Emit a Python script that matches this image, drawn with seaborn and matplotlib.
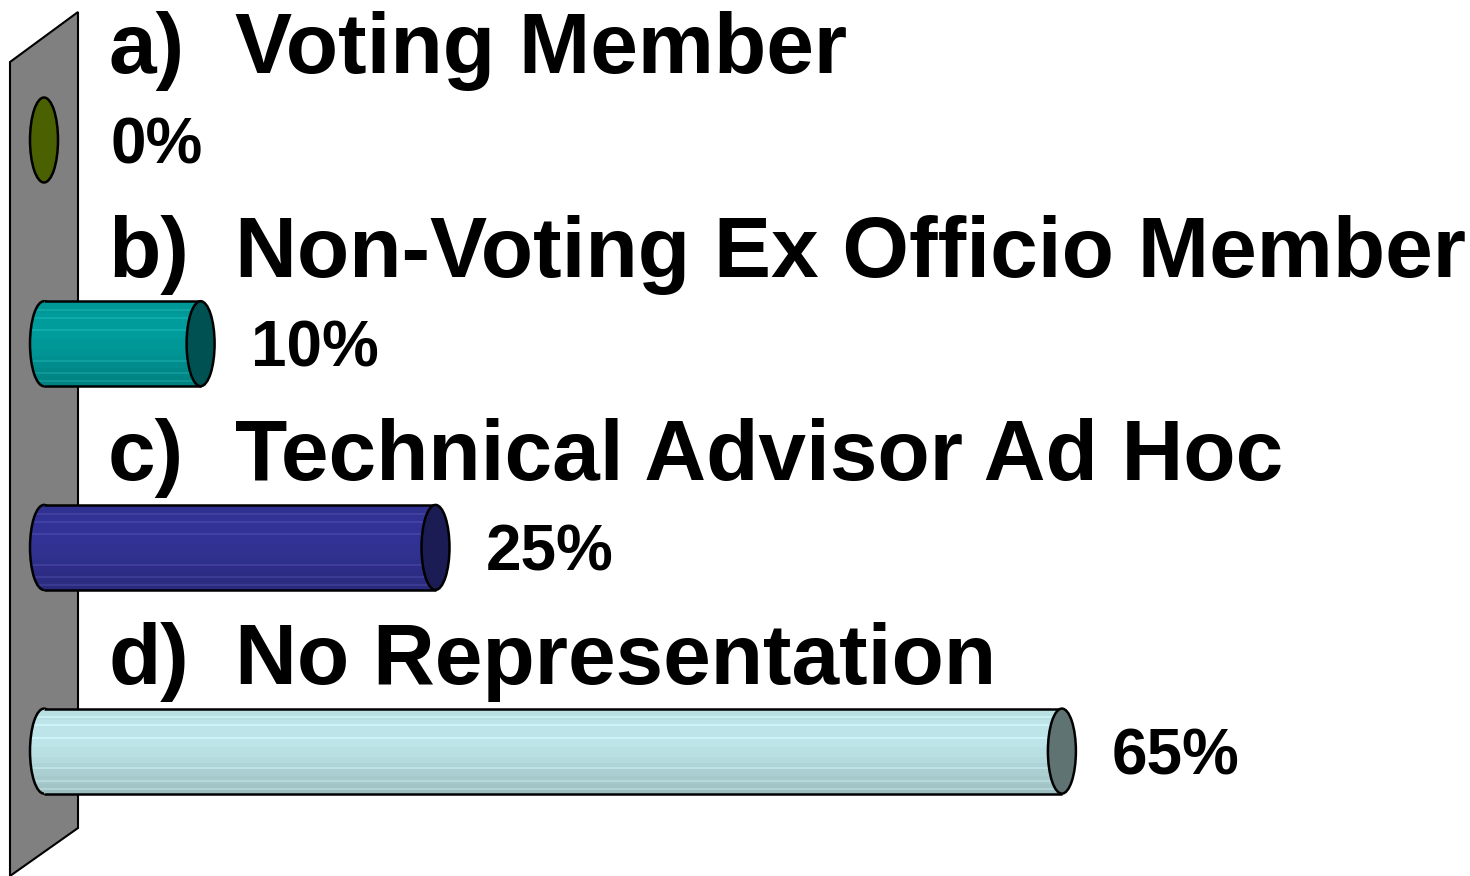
import numpy as np
import pandas as pd
import matplotlib
matplotlib.use("Agg")
import matplotlib.pyplot as plt
import seaborn as sns
from matplotlib.patches import Ellipse, Polygon
from matplotlib.colors import to_rgb

# ---- data ----
letters = ["a)", "b)", "c)", "d)"]
categories = ["Voting Member", "Non-Voting Ex Officio Member",
              "Technical Advisor Ad Hoc", "No Representation"]
values = [0, 10, 25, 65]
value_labels = ["0%", "10%", "25%", "65%"]
body_colors = ["#4b6000", "#009494", "#30308f", "#b4dadd"]
cap_colors = ["#4b6000", "#005252", "#1c1c55", "#5f7373"]

sns.set_theme(style="white")
plt.rcParams["font.family"] = ["Liberation Sans", "DejaVu Sans"]

W, H = 1470, 876
fig = plt.figure(figsize=(W / 100, H / 100), dpi=100)
ax = fig.add_axes([0, 0, 1, 1])
ax.set_zorder(2)

# pixel mapping: x_px = 44 + 15.66*v ; y_px = 140 + 203.7*i
px_per_unit = 15.66
x0_px = 44
row_px = 203.7
y0_px = 140

def xd(px):
    return (px - x0_px) / px_per_unit

def yd(px):
    return (px - y0_px) / row_px

# wall (decorative backdrop)
wall = Polygon([(10 / W, 1 - 62 / H), (78 / W, 1 - 12 / H),
                (78 / W, 1 - 828 / H), (10 / W, 1 - 876 / H)],
               closed=True, transform=fig.transFigure, facecolor="#808080",
               edgecolor="black", linewidth=1.5, zorder=-5)
fig.patches.append(wall)

bar_h = 85 / row_px
cap_w = 28 / px_per_unit

df = pd.DataFrame({"category": categories, "value": values})
sns.barplot(data=df, x="value", y="category", hue="category",
            palette=body_colors, orient="h", width=bar_h, linewidth=0,
            legend=False, ax=ax, zorder=3)

ax.set_xlim(xd(0), xd(W))
ax.set_ylim(yd(H), yd(0))
ax.axis("off")
ax.patch.set_alpha(0)

def gradient_img(color, n=42):
    base = np.array(to_rgb(color))
    t = np.linspace(0, 1, n)
    # cylinder shading: slightly bright upper part, darker bottom
    f = 1.05 - 0.04 * np.abs(t - 0.3) * 2 - 0.12 * np.clip(t - 0.5, 0, 1) * 2
    f = np.round(f * 40) / 40  # banded look
    rows = []
    for k, fk in enumerate(f):
        c = np.clip(base * fk, 0, 1)
        if k in (4, 8, 14, 29, 35, 39):
            c = np.clip(c + 0.06, 0, 1)
        rows.append(c)
    return np.array(rows)[:, None, :]

bars = [p for p in ax.patches]
for i, (v, bc, cc) in enumerate(zip(values, body_colors, cap_colors)):
    top = i - bar_h / 2
    bot = i + bar_h / 2
    img = gradient_img(bc)
    if v > 0:
        # left rounded end
        le = Ellipse((0, i), width=cap_w, height=bar_h, facecolor="none",
                     edgecolor="black", linewidth=1.8, zorder=2.6)
        ax.add_patch(le)
        im = ax.imshow(img, extent=(-cap_w / 2, cap_w / 2, bot, top),
                       aspect="auto", origin="upper", zorder=2.4,
                       interpolation="nearest")
        im.set_clip_path(le)
        # body gradient
        bar = bars[i]
        im2 = ax.imshow(img, extent=(0, v, bot, top), aspect="auto",
                        origin="upper", zorder=3.1, interpolation="nearest")
        im2.set_clip_path(bar)
        ax.plot([0, v], [top, top], color="black", lw=1.8, zorder=4,
                solid_capstyle="butt")
        ax.plot([0, v], [bot, bot], color="black", lw=1.8, zorder=4,
                solid_capstyle="butt")
    cap = Ellipse((v, i), width=cap_w, height=bar_h, facecolor=cc,
                  edgecolor="black", linewidth=1.8, zorder=5)
    ax.add_patch(cap)

    # labels
    ax.text(xd(108), i - 67 / row_px, letters[i], fontsize=61.7,
            fontweight="bold", color="black", ha="left", va="baseline",
            zorder=6)
    ax.text(xd(235), i - 67 / row_px, categories[i], fontsize=61.7,
            fontweight="bold", color="black", ha="left", va="baseline",
            zorder=6)
    lx = max(v + 50 / px_per_unit, xd(110))
    ax.text(lx, i + 23 / row_px, value_labels[i], fontsize=46,
            fontweight="bold", color="black", ha="left", va="baseline",
            zorder=6)

fig.savefig("out.png", dpi=100, facecolor="white")
